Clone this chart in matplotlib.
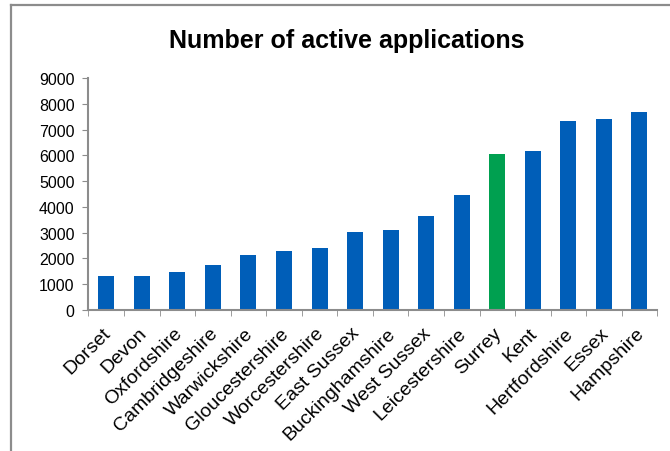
import matplotlib.pyplot as plt
import matplotlib.transforms as mtransforms
import numpy as np

plt.rcParams['font.family'] = ['Liberation Sans', 'DejaVu Sans']

counties = ['Dorset', 'Devon', 'Oxfordshire', 'Cambridgeshire', 'Warwickshire',
            'Gloucestershire', 'Worcestershire', 'East Sussex', 'Buckinghamshire',
            'West Sussex', 'Leicestershire', 'Surrey', 'Kent', 'Hertfordshire',
            'Essex', 'Hampshire']
applications = [1330, 1330, 1460, 1730, 2140, 2270, 2410, 3030, 3100,
                3640, 4470, 6050, 6170, 7330, 7400, 7670]
highlight = 'Surrey'

blue = '#005EB8'
green = '#00A050'
grey = '#8C8C8C'

fig = plt.figure(figsize=(6.7, 4.52), dpi=100)

# outer chart frame (only top and left edges visible)
fig.add_artist(plt.Line2D([0.0157, 0.0157], [0, 0.987], color=grey, lw=1.6,
                          transform=fig.transFigure))
fig.add_artist(plt.Line2D([0.0157, 1.0], [0.987, 0.987], color=grey, lw=1.6,
                          transform=fig.transFigure))

ax = fig.add_axes([0.132, 0.312, 0.849, 0.513])

x = np.arange(len(counties))
colors = [green if c == highlight else blue for c in counties]
ax.bar(x, applications, width=0.45, color=colors)

ax.set_xlim(-0.5, len(counties) - 0.5)
ax.set_ylim(0, 9000)
ax.set_yticks(range(0, 9001, 1000))
ax.tick_params(axis='y', labelsize=11.5, length=4, color=grey, pad=6)

ax.set_xticks(x)
ax.set_xticklabels(counties, rotation=45, ha='right', rotation_mode='anchor',
                   fontsize=14)
ax.tick_params(axis='x', length=0, pad=6)
ax.set_xticks(np.arange(-0.5, len(counties)), minor=True)
ax.tick_params(axis='x', which='minor', length=4, color=grey)
shift = mtransforms.ScaledTranslation(-4 / 100, -6 / 100, fig.dpi_scale_trans)
for lab in ax.get_xticklabels():
    lab.set_transform(lab.get_transform() + shift)

for s in ['top', 'right']:
    ax.spines[s].set_visible(False)
for s in ['left', 'bottom']:
    ax.spines[s].set_color(grey)
    ax.spines[s].set_linewidth(1.5)

fig.text(0.518, 0.91, 'Number of active applications', ha='center', va='center',
         fontsize=18, fontweight='bold')

fig.savefig('out.png', dpi=100)
